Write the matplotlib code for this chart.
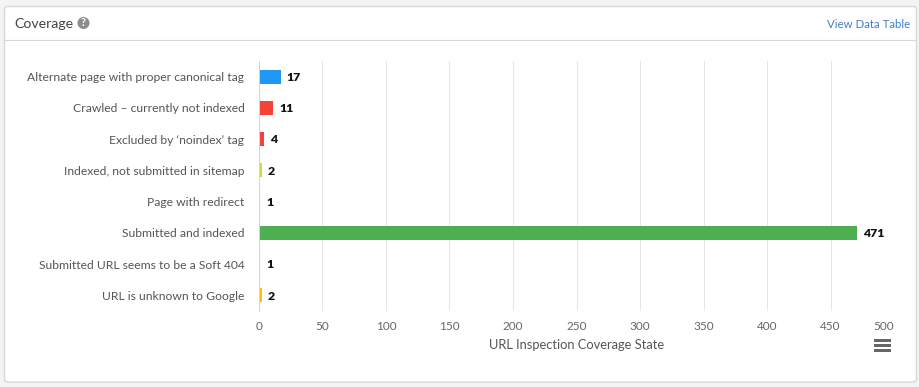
import matplotlib
matplotlib.use('Agg')
import matplotlib.pyplot as plt
from matplotlib.patches import FancyBboxPatch, Rectangle, Circle

plt.rcParams['font.family'] = ['Lato', 'DejaVu Sans']

categories = ['Alternate page with proper canonical tag', 'Crawled \u2013 currently not indexed',
              'Excluded by \u2018noindex\u2019 tag', 'Indexed, not submitted in sitemap',
              'Page with redirect', 'Submitted and indexed',
              'Submitted URL seems to be a Soft 404', 'URL is unknown to Google']
values = [17, 11, 4, 2, 1, 471, 1, 2]
colors = ['#2196F3', '#F44336', '#F44336', '#CDDC39', '#FFFFFF', '#4CAF50', '#FFFFFF', '#FFC107']
xticks = [0, 50, 100, 150, 200, 250, 300, 350, 400, 450, 500]

W, H = 920, 387
fig = plt.figure(figsize=(W / 100, H / 100), dpi=100, facecolor='#f4f4f4')

# card and header, in pixel coordinates
bg = fig.add_axes([0, 0, 1, 1])
bg.set_xlim(0, W)
bg.set_ylim(H, 0)
bg.axis('off')
bg.add_patch(FancyBboxPatch((4.5, 6.5), 912, 375.5, boxstyle='round,pad=0,rounding_size=3',
                            fc='white', ec='#d8d8d8', lw=1))
bg.plot([5, 916], [39.5, 39.5], color='#d8d8d8', lw=0.8)
bg.text(14, 23.5, 'Coverage', fontsize=10.2, color='#444444', va='center')
bg.add_patch(Circle((83.5, 23), 6, fc='#8c8c8c', ec='none'))
bg.text(83.5, 23, '?', fontsize=8, color='white', weight='bold', ha='center', va='center')
bg.text(910, 24, 'View Data Table', fontsize=8.3, color='#3f7fc4', ha='right', va='center')
for y in [339, 344, 349]:
    bg.add_patch(Rectangle((874.5, y), 17, 3, fc='#666666', ec='none'))

# chart area
left, right, top, bottom = 259, 894, 61, 311
ax = fig.add_axes([left / W, 1 - bottom / H, (right - left) / W, (bottom - top) / H])
ax.patch.set_alpha(0)
ypos = list(range(len(categories)))
ax.barh(ypos, values, height=0.45, color=colors, zorder=3)
ax.set_xlim(0, 500)
ax.set_ylim(len(categories) - 0.5, -0.5)
ax.set_xticks(xticks)
ax.set_yticks(ypos)
ax.set_yticklabels(categories)
ax.xaxis.grid(True, color='#e6e6e6', lw=0.75, zorder=0)
ax.set_axisbelow(True)
ax.tick_params(axis='x', length=0, pad=7.5, labelsize=8.5, labelcolor='#666666')
ax.tick_params(axis='y', length=0, pad=10.5, labelsize=8.7, labelcolor='#555555')
ax.get_xticklabels()[-1].set_ha('right')
for s in ['top', 'right', 'bottom']:
    ax.spines[s].set_visible(False)
ax.spines['left'].set_color('#ccd6eb')
ax.spines['left'].set_linewidth(0.75)
ax.spines['left'].set_zorder(5)
ax.set_xlabel('URL Inspection Coverage State', fontsize=9.3, color='#555555', labelpad=4.5)

for y, v in zip(ypos, values):
    ax.annotate(str(v), (v, y), xytext=(4.5, -0.5), textcoords='offset points', va='center',
                fontsize=8.8, weight='heavy', color='#111111', zorder=4)

fig.savefig('out.png', dpi=100, facecolor=fig.get_facecolor())
